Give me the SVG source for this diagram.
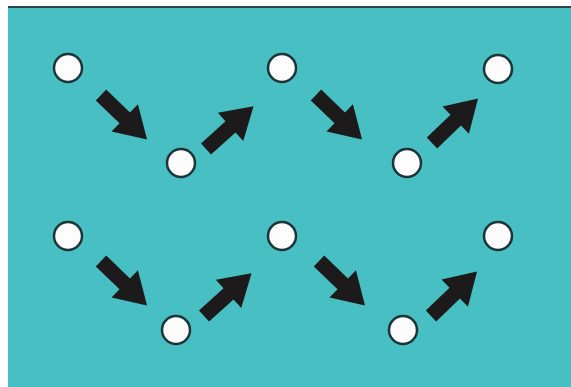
<svg xmlns="http://www.w3.org/2000/svg" width="571" height="387" viewBox="0 0 571 387">
<style>
.node{fill:#fdfdfd;stroke:#1d3438;stroke-width:2.5}
.arr{fill:#1c1a1a}
</style>
<defs>
<path id="arrow" d="M0,-7.5 L33,-7.5 L33,-19 L64,0 L33,19 L33,7.5 L0,7.5 Z"/>
</defs>
<rect x="0" y="0" width="571" height="387" fill="#ffffff"/>
<rect x="8" y="7" width="563" height="380" fill="#47bfc3"/>
<line x1="8" y1="7" x2="571" y2="7" stroke="#2a4448" stroke-width="2"/>
<g id="connectors" class="arr">
<use href="#arrow" transform="translate(101,95) rotate(44)"/>
<use href="#arrow" transform="translate(206,149) rotate(-42)"/>
<use href="#arrow" transform="translate(316,95) rotate(44)"/>
<use href="#arrow" transform="translate(432,143) rotate(-44)"/>
<use href="#arrow" transform="translate(101,261) rotate(44)"/>
<use href="#arrow" transform="translate(204,316) rotate(-42)"/>
<use href="#arrow" transform="translate(319,261) rotate(44)"/>
<use href="#arrow" transform="translate(431,316) rotate(-44)"/>
</g>
<g id="n1"><circle class="node" cx="68" cy="68" r="14"/></g>
<g id="n2"><circle class="node" cx="181" cy="163" r="14"/></g>
<g id="n3"><circle class="node" cx="282" cy="68" r="14"/></g>
<g id="n4"><circle class="node" cx="407" cy="163" r="14"/></g>
<g id="n5"><circle class="node" cx="498" cy="69" r="14"/></g>
<g id="n6"><circle class="node" cx="68" cy="236" r="14"/></g>
<g id="n7"><circle class="node" cx="176" cy="330" r="14"/></g>
<g id="n8"><circle class="node" cx="282" cy="236" r="14"/></g>
<g id="n9"><circle class="node" cx="403" cy="330" r="14"/></g>
<g id="n10"><circle class="node" cx="498" cy="236" r="14"/></g>
</svg>
